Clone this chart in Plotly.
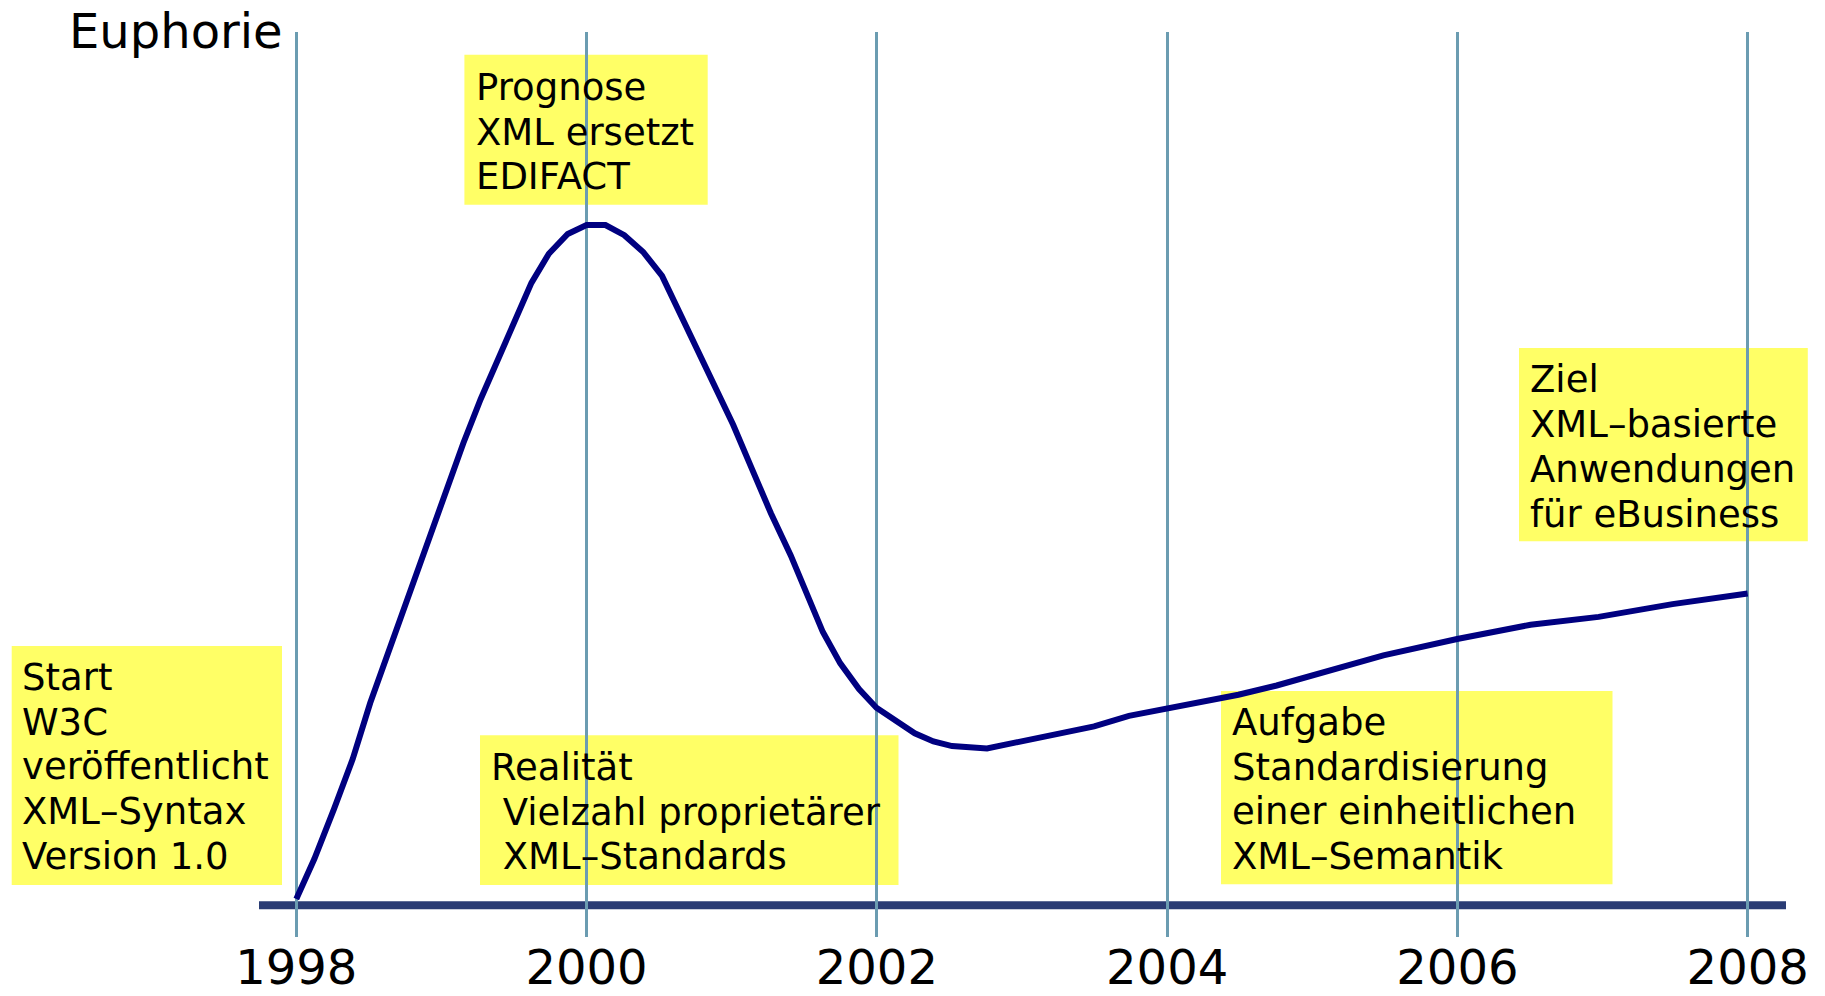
import plotly.graph_objects as go

# ---- data ----
years = [1998.0, 1998.124, 1998.26, 1998.389, 1998.509, 1998.645, 1998.781, 1998.91, 1999.03, 1999.15,
         1999.27, 1999.39, 1999.51, 1999.62, 1999.74, 1999.87, 2000.0, 2000.13, 2000.26, 2000.39,
         2000.52, 2000.62, 2000.75, 2000.88, 2001.01, 2001.14, 2001.27, 2001.406, 2001.516, 2001.628,
         2001.748, 2001.877, 2001.997, 2002.133, 2002.261, 2002.39, 2002.518, 2002.759, 2002.999, 2003.248,
         2003.497, 2003.737, 2003.994, 2004.258, 2004.491, 2004.755, 2005.053, 2005.49, 2005.998, 2006.504,
         2006.973, 2007.482, 2008.0]
euphorie = [0, 5.93, 13.37, 20.79, 29.08, 37.37, 45.65, 53.26, 60.5, 67.59,
            74.15, 80.19, 85.89, 91.42, 95.74, 98.68, 100.0, 100.0, 98.5, 96.0,
            92.46, 87.97, 81.97, 76.22, 70.36, 63.78, 57.23, 51.01, 45.31, 39.61,
            34.96, 31.16, 28.38, 26.32, 24.58, 23.38, 22.69, 22.34, 23.38, 24.33,
            25.62, 27.18, 28.22, 29.26, 30.3, 31.68, 33.58, 36.16, 38.58, 40.7,
            41.86, 43.75, 45.34]
tick_years = [1998, 2000, 2002, 2004, 2006, 2008]
tick_labels = ["1998", "2000", "2002", "2004", "2006", "2008"]
y_title = "Euphorie"

box_lines = [
    ["Start", "W3C", "veröffentlicht", "XML–Syntax", "Version 1.0"],
    ["Prognose", "XML ersetzt", "EDIFACT"],
    ["Realität", "\u00a0Vielzahl proprietärer", "\u00a0XML–Standards"],
    ["Aufgabe", "Standardisierung", "einer einheitlichen", "XML–Semantik"],
    ["Ziel", "XML–basierte", "Anwendungen", "für eBusiness"],
]

# ---- layout geometry (pixels in the 1825x996 page) ----
W, H = 1825, 996
PL, PR, PT, PB = 259, 1786, 32, 937


def px(x):
    return (x - PL) / (PR - PL)


def py(y):
    return (PB - y) / (PB - PT)


# box rectangles: left, top, right, bottom ; text left ; first baseline
boxes = [
    (11.7, 646, 282, 885, 21.5, 690),
    (464.4, 54.7, 707.7, 204.8, 476, 100),
    (480, 735.3, 898.5, 885, 491, 780),
    (1221, 691, 1612.5, 884.2, 1232, 735),
    (1519, 348, 1807.8, 541.3, 1530, 392.4),
]
LINE_STEP = 44.9
BOX_FS = 37

FONT = "DejaVu Sans, Verdana, sans-serif"
YELLOW = "#FFFF66"
NAVY = "#000080"
AXIS = "#2A3C74"
GRID = "#6B9CB1"

fig = go.Figure()
fig.add_trace(go.Scatter(x=years, y=euphorie, mode="lines",
                         line=dict(color=NAVY, width=6), hoverinfo="skip",
                         showlegend=False))

shapes = []
for (l, t, r, b, tx, bl) in boxes:
    shapes.append(dict(type="rect", xref="paper", yref="paper",
                       x0=px(l), x1=px(r), y0=py(b), y1=py(t),
                       fillcolor=YELLOW, line=dict(width=0), layer="between"))
shapes.append(dict(type="line", xref="paper", yref="y", x0=0, x1=1,
                   y0=-0.935, y1=-0.935, line=dict(color=AXIS, width=8),
                   layer="between"))

annotations = []
for (l, t, r, b, tx, bl), lines in zip(boxes, box_lines):
    for i, txt in enumerate(lines):
        centre = bl + i * LINE_STEP - 0.346 * BOX_FS
        annotations.append(dict(text=txt, xref="paper", yref="paper",
                                x=px(tx), y=py(centre), xanchor="left", yanchor="middle",
                                align="left", showarrow=False, borderpad=0, borderwidth=0,
                                font=dict(family=FONT, size=BOX_FS, color="black")))
annotations.append(dict(text=y_title, xref="paper", yref="paper",
                        x=px(283), y=py(31), xanchor="right", yanchor="middle",
                        showarrow=False, borderpad=0, borderwidth=0,
                        font=dict(family=FONT, size=48, color="black")))

fig.update_layout(
    width=W, height=H,
    margin=dict(l=PL, r=W - PR, t=PT, b=H - PB, pad=0, autoexpand=False),
    paper_bgcolor="white", plot_bgcolor="white",
    shapes=shapes, annotations=annotations,
    xaxis=dict(range=[1997.743, 2008.264], tickvals=tick_years, ticktext=tick_labels,
               showgrid=True, gridcolor=GRID, gridwidth=2.5, zeroline=False,
               showline=False, ticks="", ticklabelstandoff=-2,
               automargin=False,
               tickfont=dict(family=FONT, size=48, color="black"), fixedrange=True),
    yaxis=dict(range=[-5.638, 128.64], showgrid=False, zeroline=False, automargin=False,
               showticklabels=False, showline=False, fixedrange=True),
)

fig.write_html("out.html", config={"displayModeBar": False},
               post_script="document.body.style.margin='0';document.body.style.overflow='hidden';")
